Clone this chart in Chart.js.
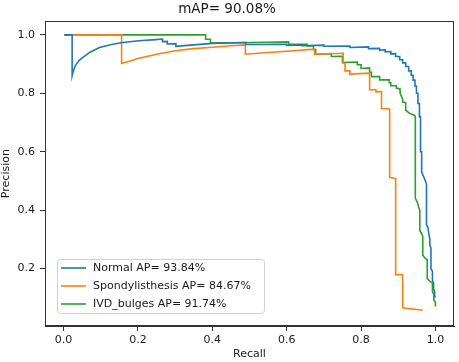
<!DOCTYPE html>
<html>
<head>
<meta charset="utf-8">
<script src="https://cdn.jsdelivr.net/npm/chart.js@4/dist/chart.umd.min.js"></script>
<style>
  html, body { margin: 0; padding: 0; background: #fff; }
  #pr { display: block; }
</style>
</head>
<body>
<canvas id="pr" width="459" height="362"></canvas>
<script>
const xTicks = [0.0, 0.2, 0.4, 0.6, 0.8, 1.0];
const yTicks = [0.2, 0.4, 0.6, 0.8, 1.0];

const classNames = ["Normal", "Spondylisthesis", "IVD_bulges"];
const classAP = [93.84, 84.67, 91.74];
const mAP = 90.08;

// Normal
const normalRecall = [0.002, 0.023, 0.023, 0.026, 0.030, 0.034, 0.042, 0.052, 0.070, 0.096, 0.132, 0.159, 0.203, 0.248, 0.266,
  0.266, 0.279, 0.279, 0.302, 0.302, 0.35, 0.40, 0.49, 0.49, 0.60, 0.60, 0.64, 0.64, 0.70, 0.70,
  0.77, 0.77, 0.82, 0.82, 0.85, 0.85, 0.865, 0.865, 0.88, 0.88, 0.893, 0.893, 0.904, 0.904, 0.912, 0.912,
  0.92, 0.92, 0.928, 0.928, 0.935, 0.935, 0.94, 0.94, 0.945, 0.945, 0.949, 0.949, 0.953, 0.953, 0.957, 0.957,
  0.960, 0.960, 0.963, 0.963, 0.968, 0.973, 0.976, 0.976, 0.980, 0.982, 0.985, 0.985, 0.988, 0.988, 0.992, 0.992,
  0.995, 0.995, 0.998, 0.998, 1.0];
const normalPrecision = [1.0, 1.0, 0.86, 0.875, 0.89, 0.90, 0.913, 0.923, 0.94, 0.957, 0.968, 0.974, 0.98, 0.984, 0.986,
  0.977, 0.978, 0.969, 0.970, 0.961, 0.966, 0.971, 0.974, 0.967, 0.968, 0.964, 0.966, 0.963, 0.965, 0.961,
  0.962, 0.957, 0.959, 0.953, 0.954, 0.948, 0.949, 0.942, 0.943, 0.935, 0.936, 0.926, 0.926, 0.915, 0.915, 0.904,
  0.905, 0.892, 0.892, 0.877, 0.877, 0.862, 0.862, 0.845, 0.845, 0.825, 0.825, 0.80, 0.80, 0.765, 0.765, 0.72,
  0.72, 0.60, 0.60, 0.53, 0.515, 0.50, 0.49, 0.35, 0.34, 0.32, 0.30, 0.28, 0.27, 0.20, 0.19, 0.16,
  0.15, 0.13, 0.12, 0.105, 0.10];

// Spondylisthesis
const spondRecall = [0.002, 0.156, 0.156, 0.17, 0.20, 0.25, 0.30, 0.35, 0.40, 0.45, 0.489, 0.489, 0.55, 0.60, 0.675,
  0.675, 0.752, 0.752, 0.757, 0.757, 0.770, 0.770, 0.823, 0.823, 0.840, 0.840, 0.855, 0.855, 0.872, 0.877,
  0.877, 0.893, 0.893, 0.912, 0.912, 0.966];
const spondPrecision = [1.0, 1.0, 0.902, 0.907, 0.919, 0.934, 0.946, 0.953, 0.958, 0.963, 0.966, 0.934, 0.940, 0.944, 0.951,
  0.934, 0.937, 0.905, 0.900, 0.877, 0.877, 0.866, 0.869, 0.812, 0.812, 0.805, 0.806, 0.747, 0.748, 0.745,
  0.512, 0.508, 0.179, 0.179, 0.065, 0.057];

// IVD_bulges
const ivdRecall = [0.002, 0.382, 0.382, 0.395, 0.395, 0.45, 0.50, 0.55, 0.605, 0.605, 0.655, 0.655, 0.672, 0.672, 0.678,
  0.678, 0.72, 0.72, 0.75, 0.75, 0.79, 0.79, 0.80, 0.80, 0.823, 0.823, 0.828, 0.828, 0.85, 0.85, 0.876, 0.876,
  0.88, 0.88, 0.895, 0.895, 0.905, 0.905, 0.912, 0.912, 0.92, 0.92, 0.93, 0.944, 0.946, 0.946, 0.952, 0.955, 0.958,
  0.958, 0.963, 0.966, 0.966, 0.972, 0.978, 0.978, 0.985, 0.992, 0.992, 0.996, 0.996, 1.0, 1.0];
const ivdPrecision = [1.0, 1.0, 0.985, 0.985, 0.972, 0.973, 0.974, 0.975, 0.976, 0.968, 0.968, 0.962, 0.962, 0.950, 0.950,
  0.934, 0.936, 0.926, 0.927, 0.905, 0.907, 0.898, 0.898, 0.885, 0.887, 0.872, 0.872, 0.857, 0.857, 0.846, 0.846, 0.836,
  0.836, 0.826, 0.826, 0.818, 0.815, 0.80, 0.78, 0.77, 0.768, 0.742, 0.732, 0.724, 0.72, 0.44, 0.425, 0.41, 0.40,
  0.33, 0.32, 0.31, 0.245, 0.235, 0.23, 0.165, 0.157, 0.15, 0.12, 0.11, 0.09, 0.085, 0.07];

const colors = ["#1f77b4", "#ff7f0e", "#2ca02c"];
const FONT = "DejaVu Sans";
const TEXT = "#1a1a1a";

function pts(xs, ys) {
  return xs.map((x, i) => ({ x: x, y: ys[i] }));
}

const curves = [
  pts(normalRecall, normalPrecision),
  pts(spondRecall, spondPrecision),
  pts(ivdRecall, ivdPrecision)
];

const frame = {
  id: 'frame',
  afterDatasetsDraw(chart) {
    const a = chart.chartArea;
    const ctx = chart.ctx;
    ctx.save();
    ctx.strokeStyle = '#333';
    ctx.lineWidth = 1;
    ctx.strokeRect(Math.round(a.left) + 0.5, Math.round(a.top) + 0.5,
      Math.round(a.right - a.left) - 1, Math.round(a.bottom - a.top) - 1);
    ctx.restore();
  }
};

const boxLegend = {
  id: 'boxLegend',
  afterDraw(chart) {
    const a = chart.chartArea;
    const ctx = chart.ctx;
    const x0 = a.left + 12, y0 = a.bottom - 67, w = 207, h = 54;
    ctx.save();
    ctx.beginPath();
    ctx.roundRect(x0 + 0.5, y0 + 0.5, w, h, 3);
    ctx.fillStyle = 'rgba(255,255,255,0.8)';
    ctx.fill();
    ctx.strokeStyle = '#d0d0d0';
    ctx.lineWidth = 1;
    ctx.stroke();
    ctx.font = '11px "' + FONT + '"';
    ctx.textBaseline = 'middle';
    chart.data.datasets.forEach((ds, i) => {
      const y = y0 + 9 + i * 18;
      ctx.strokeStyle = ds.borderColor;
      ctx.lineWidth = 1.6;
      ctx.beginPath();
      ctx.moveTo(x0 + 4, y);
      ctx.lineTo(x0 + 29, y);
      ctx.stroke();
      ctx.fillStyle = TEXT;
      ctx.fillText(ds.label, x0 + 36, y);
    });
    ctx.restore();
  }
};

new Chart(document.getElementById('pr'), {
  type: 'scatter',
  data: {
    datasets: classNames.map((name, i) => ({
      label: name + ' AP= ' + classAP[i].toFixed(2) + '%',
      data: curves[i],
      showLine: true,
      borderColor: colors[i],
      backgroundColor: colors[i],
      borderWidth: 1.6,
      pointRadius: 0,
      tension: 0
    }))
  },
  options: {
    responsive: false,
    animation: false,
    layout: { padding: { left: 0, right: 5, top: 0, bottom: 0 } },
    plugins: {
      legend: { display: false },
      tooltip: { enabled: false },
      title: {
        display: true,
        text: 'mAP= ' + mAP.toFixed(2) + '%',
        color: TEXT,
        font: { family: FONT, size: 13.5, weight: 'normal' },
        padding: { top: 1, bottom: 4 }
      }
    },
    scales: {
      x: {
        type: 'linear',
        min: -0.05,
        max: 1.05,
        afterFit: s => { s.height = 36; },
        afterBuildTicks: s => { s.ticks = xTicks.map(v => ({ value: v })); },
        ticks: {
          callback: v => v.toFixed(1),
          color: TEXT,
          font: { family: FONT, size: 11 },
          padding: 3,
          maxRotation: 0
        },
        grid: { drawOnChartArea: false, tickLength: 5, tickColor: '#333' },
        border: { color: '#333' },
        title: {
          display: true,
          text: 'Recall',
          color: TEXT,
          font: { family: FONT, size: 11 },
          padding: { top: 0, bottom: 1 }
        }
      },
      y: {
        type: 'linear',
        min: 0.003,
        max: 1.047,
        afterFit: s => { s.width = 45; },
        afterBuildTicks: s => { s.ticks = yTicks.map(v => ({ value: v })); },
        ticks: {
          callback: v => v.toFixed(1),
          color: TEXT,
          font: { family: FONT, size: 11 },
          padding: 5
        },
        grid: { drawOnChartArea: false, tickLength: 5, tickColor: '#333' },
        border: { color: '#333' },
        title: {
          display: true,
          text: 'Precision',
          color: TEXT,
          font: { family: FONT, size: 11 },
          padding: { top: 0, bottom: 0 }
        }
      }
    }
  },
  plugins: [frame, boxLegend]
});
</script>
</body>
</html>
